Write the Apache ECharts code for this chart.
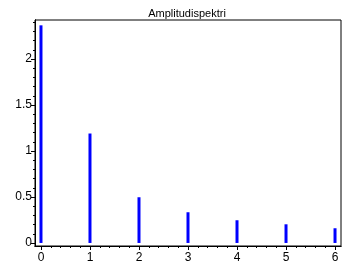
<!DOCTYPE html>
<html><head><meta charset="utf-8">
<script src="https://cdn.jsdelivr.net/npm/echarts@6/dist/echarts.min.js"></script>
<style>html,body{margin:0;padding:0;background:#fff}#c{width:358px;height:265px}</style>
</head><body><div id="c"></div>
<script>
const title = 'Amplitudispektri';
const xValues = [0, 1, 2, 3, 4, 5, 6];
const amplitudes = [2.366, 1.19, 0.497, 0.334, 0.247, 0.203, 0.16];
const xTickLabels = [0, 1, 2, 3, 4, 5, 6];
const yTickLabels = [0, 0.5, 1, 1.5, 2];
const xMinorTicks = [];
for (let i = 0; i <= 30; i++) xMinorTicks.push(+(i * 0.2).toFixed(1));
const yMinorTicks = [];
for (let i = 0; i <= 24; i++) yMinorTicks.push(+(i * 0.1).toFixed(1));

const font = 'Liberation Sans, Arial, sans-serif';
const chart = echarts.init(document.getElementById('c'), null, {renderer: 'canvas'});
const xBase = {type: 'value', min: -0.122, max: 6.122, splitLine: {show: false},
  axisLine: {show: true, onZero: false, lineStyle: {color: '#000', width: 1}}};
const yBase = {type: 'value', min: -0.033, max: 2.424, splitLine: {show: false},
  axisLine: {show: true, onZero: false, lineStyle: {color: '#000', width: 1}}};
chart.setOption({
  animation: false,
  title: {text: title, left: 182, top: 3, textAlign: 'center',
    textStyle: {fontFamily: font, fontSize: 11, fontWeight: 'normal', color: '#000'}},
  grid: {left: 35, right: 17, top: 20, bottom: 19, show: true, borderColor: '#000', borderWidth: 1, containLabel: false},
  xAxis: [
    Object.assign({}, xBase, {
      axisTick: {show: true, inside: false, length: 4, customValues: xTickLabels, lineStyle: {color: '#000'}},
      axisLabel: {show: true, customValues: xTickLabels, margin: 6, fontFamily: font, fontSize: 12, color: '#000'}
    }),
    Object.assign({}, xBase, {
      position: 'bottom',
      axisTick: {show: true, inside: false, length: 2, customValues: xMinorTicks, lineStyle: {color: '#000'}},
      axisLabel: {show: false}
    })
  ],
  yAxis: [
    Object.assign({}, yBase, {
      axisTick: {show: true, inside: false, length: 4, customValues: yTickLabels, lineStyle: {color: '#000'}},
      axisLabel: {show: true, customValues: yTickLabels, margin: 3, fontFamily: font, fontSize: 12, color: '#000'}
    }),
    Object.assign({}, yBase, {
      position: 'left',
      axisTick: {show: true, inside: false, length: 2, customValues: yMinorTicks, lineStyle: {color: '#000'}},
      axisLabel: {show: false}
    })
  ],
  series: [{
    type: 'bar', xAxisIndex: 0, yAxisIndex: 0, barWidth: 3,
    itemStyle: {color: '#0000ff'},
    data: xValues.map((x, i) => [x, amplitudes[i]])
  }]
});
</script></body></html>
